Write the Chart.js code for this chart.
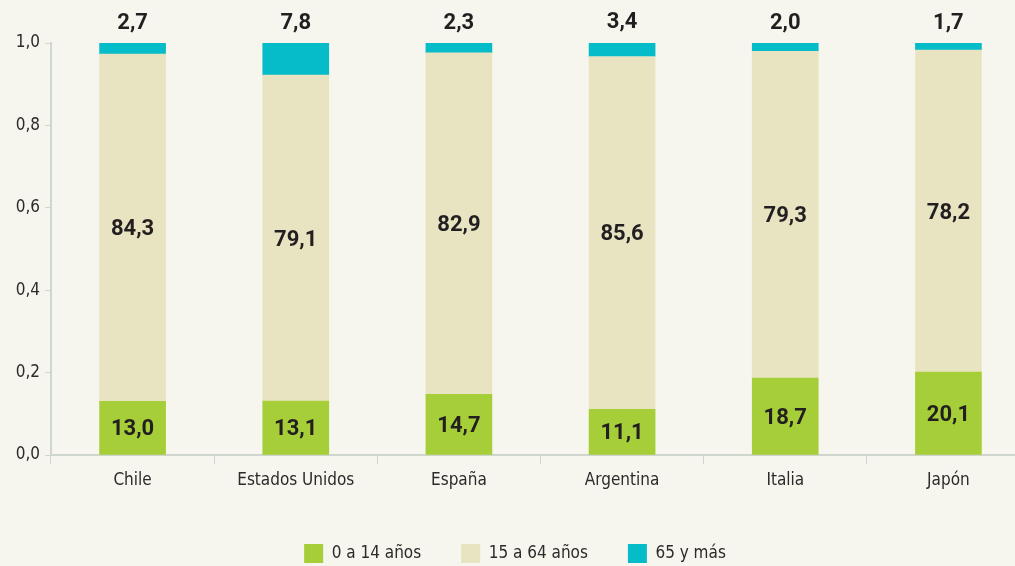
<!DOCTYPE html>
<html>
<head>
<meta charset="utf-8">
<script src="https://cdn.jsdelivr.net/npm/chart.js@4/dist/chart.umd.min.js"></script>
<style>
  html, body { margin: 0; padding: 0; background: #f6f5ee; overflow: hidden; }
  #wrap { width: 1030px; height: 566px; }
</style>
</head>
<body>
<div id="wrap"><canvas id="chart"></canvas></div>
<script>
const countries = ["Chile", "Estados Unidos", "España", "Argentina", "Italia", "Japón"];
const young = [0.130, 0.131, 0.147, 0.111, 0.187, 0.201];
const adults = [0.843, 0.791, 0.829, 0.856, 0.793, 0.782];
const old = [0.027, 0.078, 0.023, 0.034, 0.020, 0.017];
const yTicks = [0, 0.2, 0.4, 0.6, 0.8, 1.0];

const narrow = "'DejaVu Sans Condensed', sans-serif";
const fmt = v => (v * 100).toFixed(1).replace(".", ",");

// labels on the bars: inside for the two lower stacks, above the bar for the top one
const barLabels = {
    id: "barLabels",
    afterDatasetsDraw(chart) {
        const ctx = chart.ctx;
        ctx.save();
        ctx.font = "bold 22px Roboto, 'Liberation Sans', sans-serif";
        ctx.fillStyle = "#231f20";
        ctx.textAlign = "center";
        ctx.textBaseline = "middle";
        chart.data.datasets.forEach((ds, di) => {
            chart.getDatasetMeta(di).data.forEach((bar, i) => {
                const text = fmt(ds.data[i]);
                if (di == 2) {
                    ctx.fillText(text, bar.x, bar.y - 20);
                } else {
                    ctx.fillText(text, bar.x, (bar.y + bar.base) / 2 + 2);
                }
            });
        });
        ctx.restore();
    }
};

new Chart(document.getElementById("chart"), {
    type: "bar",
    data: {
        labels: countries,
        datasets: [
            { label: "0 a 14 años", data: young, backgroundColor: "#a6ce39" },
            { label: "15 a 64 años", data: adults, backgroundColor: "#e8e4c2" },
            { label: "65 y más", data: old, backgroundColor: "#06bcc9" },
        ],
    },
    options: {
        responsive: true,
        maintainAspectRatio: false,
        animation: false,
        layout: { padding: { top: 43, right: 0, bottom: -7, left: 0 } },
        datasets: { bar: { barThickness: 66 } },
        scales: {
            x: {
                stacked: true,
                afterFit: scale => { scale.height = 49; },
                grid: { display: true, drawOnChartArea: false, offset: true, tickLength: 9, color: "#cfd6cd" },
                border: { color: "#cfd6cd", width: 2 },
                ticks: { color: "#2b2b2b", font: { family: narrow, size: 17 }, padding: 6 },
            },
            y: {
                stacked: true,
                min: 0,
                max: 1,
                afterFit: scale => { scale.width = 51; },
                afterBuildTicks: scale => { scale.ticks = yTicks.map(v => ({ value: v })); },
                grid: { display: true, drawOnChartArea: false, tickLength: 6, color: "#cfd6cd" },
                border: { color: "#cfd6cd", width: 2 },
                ticks: {
                    color: "#2b2b2b",
                    font: { family: narrow, size: 17 },
                    padding: 5,
                    callback: v => v.toFixed(1).replace(".", ","),
                },
            },
        },
        plugins: {
            legend: {
                position: "bottom",
                labels: {
                    boxWidth: 19,
                    boxHeight: 19,
                    padding: 40,
                    color: "#2b2b2b",
                    font: { family: narrow, size: 17 },
                },
            },
            tooltip: { enabled: false },
        },
    },
    plugins: [barLabels],
});
</script>
</body>
</html>
